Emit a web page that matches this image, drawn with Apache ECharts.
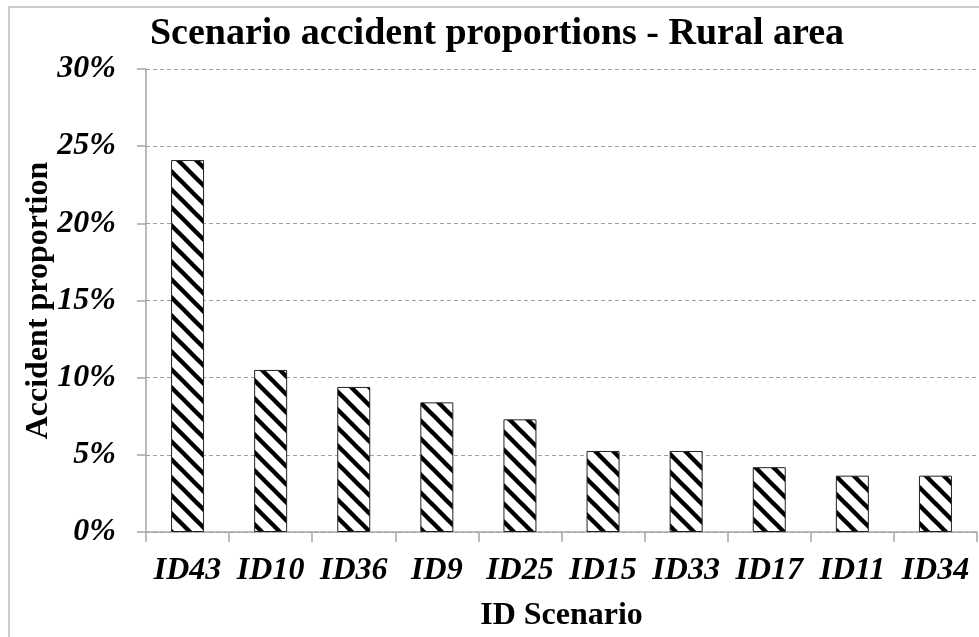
<!DOCTYPE html>
<html>
<head>
<meta charset="utf-8">
<title>Scenario accident proportions - Rural area</title>
<script src="https://cdn.jsdelivr.net/npm/echarts@6/dist/echarts.min.js"></script>
<style>
	html, body { margin: 0; padding: 0; background: #fff; }
	#chart { width: 979px; height: 637px; }
</style>
</head>
<body>
<div id="chart"></div>
<script type="text/javascript">
	// data (percent)
	var scenarios = ['ID43', 'ID10', 'ID36', 'ID9', 'ID25', 'ID15', 'ID33', 'ID17', 'ID11', 'ID34'];
	var proportions = [24.1, 10.5, 9.4, 8.4, 7.3, 5.25, 5.25, 4.2, 3.65, 3.65];

	// diagonal hatch fill
	function hatch() {
		var s = 18;
		var c = document.createElement('canvas');
		c.width = s;
		c.height = s;
		var ctx = c.getContext('2d');
		ctx.fillStyle = '#fff';
		ctx.fillRect(0, 0, s, s);
		ctx.strokeStyle = '#000';
		ctx.lineWidth = 4.4;
		[-s, 0, s].forEach(function (k) {
			ctx.beginPath();
			ctx.moveTo(k - 2, -2);
			ctx.lineTo(k + s + 2, s + 2);
			ctx.stroke();
		});
		return c;
	}

	var serif = '"Liberation Serif", "Times New Roman", serif';
	var grey = '#a6a6a6';

	var option = {
		animation: false,
		backgroundColor: '#fff',
		title: {
			text: 'Scenario accident proportions - Rural area',
			left: 492,
			top: 10,
			textAlign: 'center',
			textStyle: {
				fontFamily: serif,
				fontWeight: 'bold',
				fontSize: 38,
				color: '#000'
			}
		},
		graphic: [{
			type: 'rect',
			shape: { x: 9, y: 7, width: 1200, height: 900 },
			style: { fill: 'none', stroke: '#bdbdbd', lineWidth: 1.5 },
			silent: true,
			z: -1
		}],
		grid: {
			left: 146,
			right: 2,
			top: 69,
			bottom: 103
		},
		xAxis: {
			type: 'category',
			data: scenarios,
			name: 'ID Scenario',
			nameLocation: 'middle',
			nameGap: 68,
			nameMoveOverlap: false,
			nameTextStyle: {
				fontFamily: serif,
				fontWeight: 'bold',
				fontSize: 32,
				color: '#000'
			},
			axisLine: { lineStyle: { color: grey, width: 1.5 } },
			axisTick: { show: true, length: 10, lineStyle: { color: grey, width: 1.5 } },
			axisLabel: {
				interval: 0,
				margin: 23,
				fontFamily: serif,
				fontWeight: 'bold',
				fontStyle: 'italic',
				fontSize: 32,
				color: '#000'
			}
		},
		yAxis: {
			type: 'value',
			min: 0,
			max: 30,
			interval: 5,
			name: 'Accident proportion',
			nameLocation: 'middle',
			nameRotate: 90,
			nameGap: 91,
			nameMoveOverlap: false,
			nameTextStyle: {
				fontFamily: serif,
				fontWeight: 'bold',
				fontSize: 32,
				color: '#000'
			},
			axisLine: { show: true, lineStyle: { color: grey, width: 1.5 } },
			axisTick: { show: true, length: 9, lineStyle: { color: grey, width: 1.5 } },
			axisLabel: {
				formatter: '{value}%',
				margin: 30,
				fontFamily: serif,
				fontWeight: 'bold',
				fontStyle: 'italic',
				fontSize: 32,
				color: '#000'
			},
			splitLine: {
				show: true,
				lineStyle: { color: '#a0a0a0', type: [4, 3], width: 1 }
			}
		},
		series: [{
			name: 'Accident proportion',
			type: 'bar',
			data: proportions,
			barWidth: 33,
			itemStyle: {
				color: { image: hatch(), repeat: 'repeat' },
				borderColor: '#222',
				borderWidth: 1
			}
		}]
	};

	var myChart = echarts.init(document.getElementById('chart'));
	myChart.setOption(option);
</script>
</body>
</html>
